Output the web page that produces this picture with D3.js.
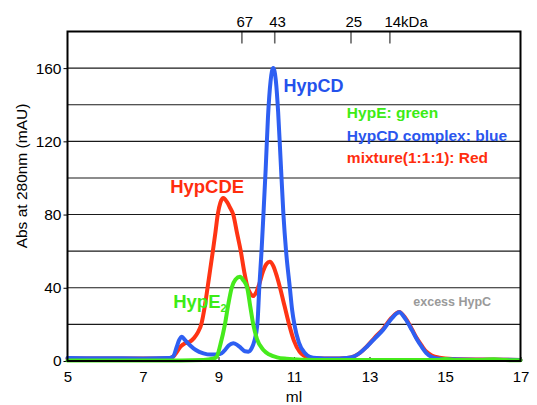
<!DOCTYPE html>
<html>
<head>
<meta charset="utf-8">
<script src="https://cdn.jsdelivr.net/npm/d3@7"></script>
<style>
body { margin: 0; background: #fff; }
text { font-family: "Liberation Sans", Arial, Helvetica, sans-serif; }
</style>
</head>
<body>
<svg id="chart" width="537" height="405"></svg>
<script>
// elution volume (ml) vs Abs 280nm (mAU)
var hypCD = [[5,1.6],[6,1.5],[7,1.4],[7.7,1.6],[7.8,2.5],[7.89,7.5],[7.96,11.5],[8.03,13.3],[8.11,11.5],[8.25,8.5],
    [8.4,6],[8.6,4.2],[8.8,3.5],[9.04,3.8],[9.15,5.5],[9.27,8.5],[9.39,9.7],[9.5,8.7],[9.6,7],[9.7,5.3],[9.79,5.1],
    [9.88,7],[9.95,11],[10.03,20],[10.08,40],[10.14,60],[10.19,80],[10.25,105],[10.31,133],[10.38,153],[10.45,160],
    [10.52,153],[10.58,136],[10.64,112],[10.72,80],[10.79,60],[10.89,40],[10.95,28],[11.01,20],[11.13,10],
    [11.28,4.5],[11.42,2.3],[11.6,1.6],[12.0,1.3],[12.4,1.6],[12.6,2.6],[12.75,4.5],[12.93,7.8],[13.15,12.5],
    [13.36,17],[13.58,23],[13.79,26.6],[13.95,23],[14.12,17],[14.25,12],[14.38,7.8],[14.5,4.5],[14.65,2.2],
    [14.85,1.2],[15.2,0.9],[16,0.7],[17,0.6]];

var mixture = [[5,1.4],[7,1.3],[7.7,1.5],[7.8,2.4],[7.9,5],[8.0,8],[8.1,9.5],[8.24,10.5],[8.35,12.5],[8.45,15.5],
    [8.55,20.5],[8.63,29],[8.71,40],[8.78,50],[8.85,60],[8.92,70.5],[8.98,80],[9.05,86.5],[9.13,89],[9.22,87],
    [9.3,84],[9.39,80],[9.49,70],[9.59,60],[9.68,49],[9.76,41],[9.84,37],[9.92,35.5],[10.0,37.5],[10.08,42],
    [10.18,49],[10.27,53],[10.36,54.2],[10.45,52],[10.55,46],[10.63,40],[10.75,30],[10.87,20],[11.0,11],[11.15,5],
    [11.37,2],[11.6,1.5],[12.0,1.3],[12.4,1.6],[12.6,2.6],[12.75,4.5],[12.93,8],[13.15,13],[13.36,17.5],[13.58,23.5],
    [13.79,26.8],[13.95,23.5],[14.12,17.5],[14.25,12.5],[14.38,8.5],[14.5,5.2],[14.65,3],[14.85,1.8],[15.2,1.1],
    [16,0.8],[17,0.6]];

var hypE = [[5,0.3],[8.0,0.3],[8.6,0.5],[8.85,1.2],[8.95,2.3],[9.05,9],[9.17,20],[9.26,31],[9.35,40],[9.45,44.5],
    [9.57,46],[9.66,44],[9.76,40],[9.84,30],[9.92,20],[10.02,12],[10.19,6],[10.35,3.5],[10.55,2],[10.8,1.2],[11.2,0.7],
    [12,0.5],[14.8,0.5],[15.0,1.1],[15.25,0.6],[16.0,0.6],[16.3,1.0],[16.6,0.5],[17,0.4]];

var xTicks = [5, 7, 9, 11, 13, 15, 17];
var yTicks = [0, 40, 80, 120, 160];
var gridValues = [20, 40, 60, 80, 100, 120, 140, 160];
var markerMl = [9.62, 10.49, 12.51, 13.54];
var markerKDa = ["67", "43", "25", "14kDa"];

var legendItems = [
    {text: "HypE: green", color: "#3cec16"},
    {text: "HypCD complex: blue", color: "#2a56ee"},
    {text: "mixture(1:1:1): Red", color: "#ff2d0e"}
];

var colors = {red: "#ff3414", blue: "#2e5ff2", green: "#46ea1c"};

var svg = d3.select("#chart");

var x = d3.scaleLinear().domain([5, 17]).range([67.5, 520.5]);
var y = d3.scaleLinear().domain([0, 180]).range([361, 31.5]);

// horizontal grid
svg.append("g").selectAll("line").data(gridValues).enter()
    .append("line")
    .attr("x1", x(5)).attr("x2", x(17))
    .attr("y1", function(d) { return y(d); })
    .attr("y2", function(d) { return y(d); })
    .attr("stroke", "#1a1a1a")
    .attr("stroke-width", 1.1);

// axes
var xAxis = svg.append("g")
    .attr("transform", "translate(0," + y(0) + ")")
    .call(d3.axisBottom(x).tickValues(xTicks).tickSize(-4).tickPadding(10));
xAxis.select(".domain").remove();
xAxis.attr("font-size", 15).attr("font-family", "Liberation Sans, Arial, sans-serif");
xAxis.selectAll("text").attr("fill", "#000");

var yAxis = svg.append("g")
    .attr("transform", "translate(" + x(5) + ",0)")
    .call(d3.axisLeft(y).tickValues(yTicks).tickSize(4).tickPadding(2));
yAxis.select(".domain").remove();
yAxis.attr("font-size", 15.5).attr("font-family", "Liberation Sans, Arial, sans-serif");
yAxis.selectAll("text").attr("fill", "#000");

// molecular weight markers along the top
var markers = svg.append("g");
markers.selectAll("line").data(markerMl).enter()
    .append("line")
    .attr("x1", function(d) { return x(d); })
    .attr("x2", function(d) { return x(d); })
    .attr("y1", y(180)).attr("y2", y(180) + 12)
    .attr("stroke", "#666").attr("stroke-width", 1.6);
markers.selectAll("text").data(markerMl).enter()
    .append("text")
    .attr("x", function(d) { return x(d) - 5.5; })
    .attr("y", 27)
    .attr("font-size", 15)
    .text(function(d, i) { return markerKDa[i]; });

// traces
var line = d3.line()
    .x(function(d) { return x(d[0]); })
    .y(function(d) { return y(d[1]); })
    .curve(d3.curveMonotoneX);

[[mixture, colors.red], [hypCD, colors.blue], [hypE, colors.green]].forEach(function(s) {
    svg.append("path")
        .datum(s[0])
        .attr("d", line)
        .attr("fill", "none")
        .attr("stroke", s[1])
        .attr("stroke-width", 4)
        .attr("stroke-linejoin", "round")
        .attr("stroke-linecap", "round");
});

// frame
svg.append("rect")
    .attr("x", x(5)).attr("y", y(180))
    .attr("width", x(17) - x(5)).attr("height", y(0) - y(180))
    .attr("fill", "none").attr("stroke", "#000").attr("stroke-width", 2);

// peak labels
svg.append("text").attr("x", x(10.72)).attr("y", y(147))
    .attr("font-size", 18).attr("font-weight", "bold").attr("fill", "#2452ec").text("HypCD");
svg.append("text").attr("x", x(7.72)).attr("y", y(91.6))
    .attr("font-size", 18.5).attr("font-weight", "bold").attr("fill", "#ff2d0e").text("HypCDE");
var he = svg.append("text").attr("x", x(7.8)).attr("y", y(28.7))
    .attr("font-size", 18.5).attr("font-weight", "bold").attr("fill", "#3cec16");
he.append("tspan").text("HypE");
he.append("tspan").attr("font-size", 11).attr("dy", 4).text("2");
svg.append("text").attr("x", x(14.16)).attr("y", y(30.3))
    .attr("font-size", 12.5).attr("font-weight", "bold").attr("fill", "#9a9a9a").text("excess HypC");

// legend
svg.append("g").selectAll("text").data(legendItems).enter()
    .append("text")
    .attr("x", x(12.4))
    .attr("y", function(d, i) { return 118 + i * 22.5; })
    .attr("font-size", 15.5)
    .attr("font-weight", "bold")
    .attr("fill", function(d) { return d.color; })
    .text(function(d) { return d.text; });

// axis titles
svg.append("text")
    .attr("transform", "translate(27,176) rotate(-90)")
    .attr("text-anchor", "middle")
    .attr("font-size", 15.5)
    .text("Abs at 280nm (mAU)");
svg.append("text")
    .attr("x", x(11)).attr("y", 402)
    .attr("text-anchor", "middle")
    .attr("font-size", 15.5)
    .text("ml");
</script>
</body>
</html>
